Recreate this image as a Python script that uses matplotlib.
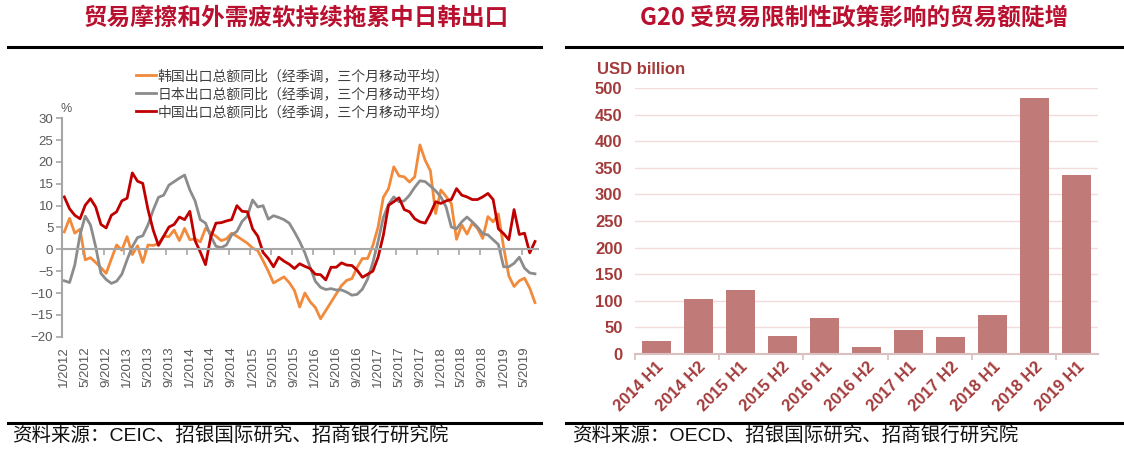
import numpy as np
import matplotlib
matplotlib.use("Agg")
import matplotlib.pyplot as plt
from matplotlib.lines import Line2D

plt.rcParams['font.family'] = ['Liberation Sans', 'Noto Sans CJK SC', 'DejaVu Sans']

# ---------------- data ----------------
korea = [4.0, 7.1, 3.7, 4.6, -2.4, -1.9, -3.0, -4.2, -5.5, -2.2,
         1.0, -0.2, 2.9, -1.2, 0.8, -3.0, 1.0, 0.9, 1.3, 3.0,
         2.9, 4.4, 2.0, 4.8, 2.2, 2.4, 1.7, 4.8, 3.8, 3.0,
         2.0, 2.4, 3.7, 3.0, 2.2, 1.4, 0.3, -0.3, -2.6, -5.0,
         -7.7, -7.0, -6.3, -7.6, -9.4, -13.2, -10.0, -12.0, -13.3, -15.9,
         -14.0, -12.1, -10.2, -8.3, -7.1, -6.7, -4.1, -2.1, -2.1, 0.9,
         5.1, 11.9, 13.9, 18.9, 16.8, 16.6, 15.4, 16.6, 23.9, 20.4,
         18.0, 8.2, 13.6, 12.1, 10.5, 2.3, 5.6, 3.5, 6.0, 4.8,
         2.5, 7.5, 6.3, 8.1, 0.5, -6.1, -8.5, -7.2, -6.6, -8.9,
         -12.2]
japan = [-7.2, -7.6, -3.6, 3.3, 7.6, 5.6, 0.6, -5.5, -6.9, -7.8,
         -7.3, -5.7, -2.4, 0.6, 2.7, 3.1, 5.6, 9.0, 11.9, 12.4,
         14.7, 15.5, 16.3, 17.0, 13.6, 11.1, 6.8, 6.0, 3.0, 0.7,
         0.4, 1.0, 3.3, 4.1, 6.4, 7.6, 11.3, 9.7, 10.0, 6.9,
         7.7, 7.3, 6.8, 6.0, 4.0, 1.8, -0.8, -4.1, -7.3, -8.7,
         -9.2, -9.0, -9.3, -9.3, -9.8, -10.5, -10.3, -9.1, -6.8, -3.0,
         1.8, 7.3, 10.3, 12.0, 10.9, 11.1, 12.4, 14.2, 15.7, 15.5,
         14.5, 13.4, 12.0, 9.7, 5.1, 4.7, 6.3, 7.4, 6.3, 5.1,
         3.6, 3.3, 2.2, 1.1, -4.0, -4.0, -3.2, -1.8, -4.3, -5.4,
         -5.6]
china = [12.0, 9.3, 7.8, 7.0, 10.1, 11.6, 9.7, 5.7, 4.9, 7.8,
         8.6, 11.1, 11.7, 17.5, 15.6, 15.1, 9.1, 4.4, 0.9, 3.0,
         5.1, 5.7, 7.4, 6.8, 8.7, 2.0, -0.6, -3.5, 2.8, 6.0,
         6.1, 6.5, 6.8, 10.0, 8.7, 8.6, 4.7, 3.0, -0.7, -2.1,
         -4.0, -1.8, -2.7, -3.4, -4.4, -3.3, -3.9, -4.4, -5.7, -5.8,
         -7.0, -4.1, -4.1, -3.1, -3.6, -3.7, -4.8, -6.4, -5.7, -5.0,
         -1.8, 3.2, 10.1, 10.9, 11.8, 9.1, 8.6, 7.0, 6.3, 6.0,
         8.2, 10.9, 10.5, 11.1, 11.4, 13.9, 12.4, 12.0, 11.4, 11.4,
         12.0, 12.8, 11.4, 4.7, 3.6, 2.2, 9.1, 3.4, 3.7, -0.8,
         1.8]
month_labels = ['1/2012', '5/2012', '9/2012', '1/2013', '5/2013', '9/2013',
                '1/2014', '5/2014', '9/2014', '1/2015', '5/2015', '9/2015',
                '1/2016', '5/2016', '9/2016', '1/2017', '5/2017', '9/2017',
                '1/2018', '5/2018', '9/2018', '1/2019', '5/2019']
series_names = ['韩国出口总额同比（经季调，三个月移动平均）',
                '日本出口总额同比（经季调，三个月移动平均）',
                '中国出口总额同比（经季调，三个月移动平均）']

periods = ['2014 H1', '2014 H2', '2015 H1', '2015 H2', '2016 H1', '2016 H2',
           '2017 H1', '2017 H2', '2018 H1', '2018 H2', '2019 H1']
trade_value = [25, 104, 120, 33, 67, 14, 46, 32, 74, 481, 336]

# ---------------- figure ----------------
W, H = 1124, 449
fig = plt.figure(figsize=(W / 100, H / 100), dpi=100)

title_color = '#B8102E'
axis_red = '#A33B3B'
grey_txt = '#595959'
axis_grey = '#A6A6A6'

# titles and rules
fig.text(296 / W, 1 - 18 / H, '贸易摩擦和外需疲软持续拖累中日韩出口', ha='center', va='center',
         fontsize=17, fontweight='bold', color=title_color,
         family=['Noto Sans CJK SC', 'DejaVu Sans'])
fig.text(854 / W, 1 - 18 / H, 'G20 受贸易限制性政策影响的贸易额陡增', ha='center', va='center',
         fontsize=17, fontweight='bold', color=title_color,
         family=['Noto Sans CJK SC', 'DejaVu Sans'])
for (xa, xb) in [(8, 541), (566, 1124)]:
    for yy in (47, 423):
        fig.add_artist(Line2D([xa / W, xb / W], [1 - yy / H, 1 - yy / H],
                              color='black', lw=2.2, transform=fig.transFigure))
fig.text(12 / W, 1 - 436 / H, '资料来源：CEIC、招银国际研究、招商银行研究院', ha='left', va='center',
         fontsize=14, color='#111111')
fig.text(572 / W, 1 - 436 / H, '资料来源：OECD、招银国际研究、招商银行研究院', ha='left', va='center',
         fontsize=14, color='#111111')

# ---------------- left chart ----------------
ax = fig.add_axes([61.7 / W, 1 - 336.7 / H, (537.6 - 61.7) / W, (336.7 - 118.3) / H])
x = np.arange(len(china))
colors = ['#F28A3C', '#8C8C8C', '#C00000']
for vals, c, name in zip([korea, japan, china], colors, series_names):
    ax.plot(x, vals, color=c, lw=2.0, label=name, solid_joinstyle='round')
ax.set_xlim(-0.5, len(china) - 0.5)
ax.set_ylim(-20, 30)
ax.set_yticks(np.arange(-20, 31, 5))
for s in ('top', 'right'):
    ax.spines[s].set_visible(False)
ax.spines['left'].set_color(axis_grey)
ax.spines['left'].set_linewidth(1.5)
ax.spines['bottom'].set_position(('data', 0))
ax.spines['bottom'].set_color(axis_grey)
ax.spines['bottom'].set_linewidth(1.5)
ax.set_xticks(np.arange(-0.5, len(china), 4))
ax.tick_params(axis='x', direction='out', length=4, width=1.2, color=axis_grey, labelbottom=False)
ax.tick_params(axis='y', direction='out', length=4, width=1.2, color=axis_grey,
               labelcolor=grey_txt, labelsize=9.5, pad=2)
sec = ax.secondary_xaxis('bottom')
sec.set_xticks(np.arange(0, len(china), 4), labels=month_labels)
sec.tick_params(length=0, pad=7, labelsize=9.5, labelcolor=grey_txt, labelrotation=90)
sec.spines['bottom'].set_visible(False)
ax.text(0.01, 1.015, '%', transform=ax.transAxes, ha='center', va='bottom', fontsize=9, color=grey_txt)
ax.legend(loc='upper left', bbox_to_anchor=(136 / W, 1 - 69 / H), bbox_transform=fig.transFigure,
          frameon=False, fontsize=10, handlelength=1.45, handletextpad=0.1, labelspacing=0.3,
          borderpad=0, borderaxespad=0, labelcolor='#404040')

# ---------------- right chart ----------------
ax2 = fig.add_axes([635 / W, 1 - 354 / H, 463 / W, 266 / H])
xb = np.arange(len(periods))
ax2.bar(xb, trade_value, width=0.69, color='#C07B78', zorder=2)
ax2.set_xlim(-0.5, len(periods) - 0.5)
ax2.set_ylim(0, 500)
ax2.set_yticks(np.arange(0, 501, 50))
ax2.yaxis.grid(True, color='#F2DCDB', lw=1.0, zorder=0)
ax2.set_axisbelow(True)
for s in ('top', 'right', 'left'):
    ax2.spines[s].set_visible(False)
ax2.spines['bottom'].set_color('#D9BFBF')
ax2.spines['bottom'].set_linewidth(1.5)
ax2.set_xticks(np.arange(-0.5, len(periods), 2))
ax2.tick_params(axis='x', direction='out', length=4, width=1.2, color='#D9BFBF', labelbottom=False)
ax2.tick_params(axis='y', length=0, pad=9, labelsize=12, labelcolor=axis_red)
for lab in ax2.get_yticklabels():
    lab.set_fontweight('bold')
sec2 = ax2.secondary_xaxis('bottom')
sec2.set_xticks(xb, labels=periods)
sec2.tick_params(length=0, pad=4, labelsize=12, labelcolor=axis_red)
sec2.spines['bottom'].set_visible(False)
for lab in sec2.get_xticklabels():
    lab.set_fontweight('bold')
    lab.set_rotation(45)
    lab.set_ha('right')
    lab.set_va('top')
    lab.set_rotation_mode('anchor')
fig.text(597 / W, 1 - 70 / H, 'USD billion', ha='left', va='center', fontsize=12,
         fontweight='bold', color=axis_red)

fig.savefig('out.png', dpi=100)
